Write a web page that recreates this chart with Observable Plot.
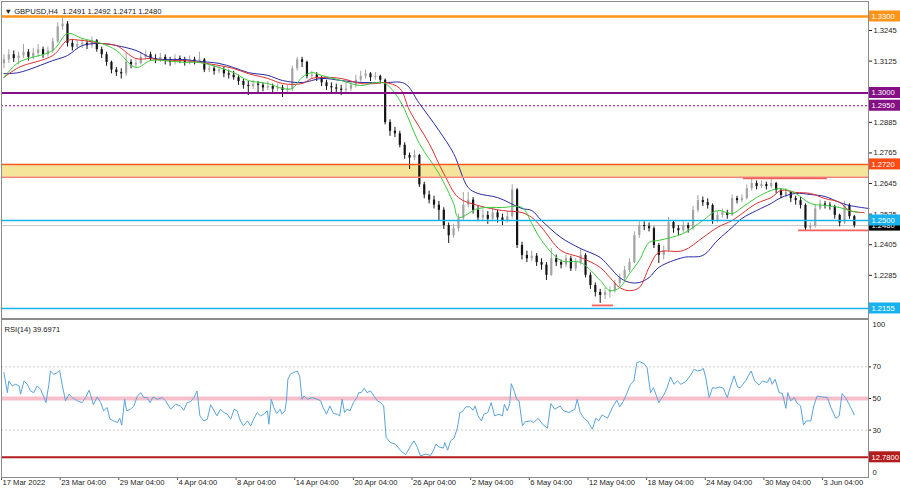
<!DOCTYPE html>
<html><head><meta charset="utf-8">
<script src="https://cdn.jsdelivr.net/npm/d3@7"></script>
<script src="https://cdn.jsdelivr.net/npm/@observablehq/plot@0.6"></script>
<style>
body{margin:0;background:#fff;}
#chart{width:900px;height:489px;overflow:hidden;background:#fff;}
#chart svg{display:block;}
</style></head><body><div id="chart"></div>
<script>
// ---------- DATA ----------
const firstOpen = 1.3115;
const closes = [
1.3130,1.3150,1.3135,1.3145,1.3160,1.3140,1.3155,1.3170,1.3150,1.3165,
1.3200,1.3260,1.3270,1.3195,1.3180,1.3190,1.3195,1.3185,1.3205,1.3170,
1.3150,1.3120,1.3090,1.3080,1.3075,1.3120,1.3110,1.3115,1.3140,1.3150,
1.3135,1.3130,1.3140,1.3125,1.3120,1.3135,1.3130,1.3120,1.3130,1.3125,
1.3130,1.3090,1.3095,1.3085,1.3090,1.3075,1.3070,1.3060,1.3045,1.3030,
1.3025,1.3035,1.3030,1.3020,1.3025,1.3015,1.3020,1.3010,1.3015,1.3095,
1.3130,1.3120,1.3065,1.3070,1.3060,1.3040,1.3025,1.3020,1.3015,1.3010,
1.3015,1.3030,1.3050,1.3065,1.3075,1.3060,1.3065,1.3050,1.2884,1.2850,
1.2840,1.2795,1.2755,1.2745,1.2755,1.2640,1.2600,1.2580,1.2560,1.2540,
1.2480,1.2440,1.2468,1.2508,1.2560,1.2580,1.2540,1.2510,1.2520,1.2505,
1.2530,1.2510,1.2500,1.2515,1.2620,1.2402,1.2363,1.2350,1.2360,1.2335,
1.2325,1.2285,1.2350,1.2335,1.2325,1.2350,1.2310,1.2335,1.2363,1.2285,
1.2245,1.2218,1.2206,1.2218,1.2225,1.2253,1.2273,1.2304,1.2335,1.2441,
1.2480,1.2476,1.2468,1.2402,1.2363,1.2382,1.2492,1.2468,1.2460,1.2480,
1.2468,1.2539,1.2578,1.2570,1.2559,1.2500,1.2520,1.2531,1.2520,1.2586,
1.2578,1.2586,1.2625,1.2645,1.2633,1.2641,1.2633,1.2645,1.2618,1.2598,
1.2610,1.2586,1.2578,1.2559,1.2470,1.2478,1.2545,1.2565,1.2560,1.2555,
1.2520,1.2490,1.2560,1.2515,1.2480];
const highs = [
1.3150,1.3170,1.3165,1.3160,1.3190,1.3170,1.3175,1.3190,1.3180,1.3180,
1.3215,1.3275,1.3295,1.3280,1.3210,1.3205,1.3210,1.3205,1.3220,1.3210,
1.3180,1.3160,1.3125,1.3100,1.3095,1.3155,1.3130,1.3130,1.3160,1.3165,
1.3160,1.3150,1.3155,1.3150,1.3140,1.3150,1.3145,1.3140,1.3145,1.3140,
1.3160,1.3135,1.3110,1.3105,1.3105,1.3100,1.3090,1.3085,1.3070,1.3055,
1.3045,1.3050,1.3045,1.3040,1.3045,1.3035,1.3035,1.3030,1.3030,1.3105,
1.3140,1.3140,1.3125,1.3085,1.3080,1.3065,1.3050,1.3040,1.3035,1.3030,
1.3040,1.3045,1.3070,1.3085,1.3090,1.3080,1.3080,1.3070,1.3055,1.2895,
1.2865,1.2850,1.2805,1.2765,1.2775,1.2760,1.2650,1.2615,1.2595,1.2575,
1.2550,1.2490,1.2485,1.2525,1.2610,1.2610,1.2590,1.2555,1.2545,1.2535,
1.2550,1.2540,1.2525,1.2535,1.2640,1.2625,1.2415,1.2380,1.2380,1.2370,
1.2350,1.2335,1.2390,1.2365,1.2345,1.2365,1.2360,1.2350,1.2390,1.2370,
1.2295,1.2255,1.2230,1.2235,1.2240,1.2265,1.2290,1.2320,1.2350,1.2455,
1.2495,1.2495,1.2490,1.2475,1.2410,1.2400,1.2512,1.2500,1.2480,1.2495,
1.2490,1.2555,1.2598,1.2592,1.2585,1.2565,1.2535,1.2545,1.2540,1.2600,
1.2595,1.2600,1.2640,1.2665,1.2655,1.2655,1.2650,1.2660,1.2650,1.2625,
1.2625,1.2615,1.2595,1.2590,1.2565,1.2490,1.2560,1.2580,1.2575,1.2570,
1.2560,1.2525,1.2575,1.2565,1.2520];
const lows = [
1.3095,1.3115,1.3120,1.3110,1.3135,1.3125,1.3130,1.3140,1.3135,1.3140,
1.3155,1.3195,1.3245,1.3180,1.3165,1.3170,1.3175,1.3170,1.3175,1.3160,
1.3135,1.3105,1.3075,1.3065,1.3055,1.3065,1.3095,1.3100,1.3110,1.3130,
1.3125,1.3115,1.3120,1.3110,1.3105,1.3110,1.3115,1.3105,1.3110,1.3110,
1.3115,1.3080,1.3080,1.3070,1.3075,1.3060,1.3055,1.3050,1.3030,1.3015,
1.2990,1.3015,1.2995,1.3005,1.3010,1.3000,1.3005,1.2982,1.2995,1.3005,
1.3085,1.3100,1.3055,1.3055,1.3045,1.3025,1.3010,1.3000,1.2995,1.2990,
1.2995,1.3005,1.3020,1.3040,1.3055,1.3045,1.3050,1.3035,1.2875,1.2830,
1.2825,1.2785,1.2740,1.2700,1.2735,1.2630,1.2585,1.2565,1.2545,1.2500,
1.2465,1.2410,1.2430,1.2455,1.2500,1.2550,1.2525,1.2495,1.2500,1.2485,
1.2495,1.2490,1.2480,1.2490,1.2505,1.2390,1.2345,1.2335,1.2340,1.2320,
1.2305,1.2265,1.2280,1.2320,1.2310,1.2315,1.2300,1.2300,1.2325,1.2275,
1.2230,1.2200,1.2175,1.2190,1.2195,1.2215,1.2240,1.2260,1.2295,1.2330,
1.2430,1.2460,1.2455,1.2390,1.2331,1.2345,1.2375,1.2450,1.2440,1.2450,
1.2450,1.2460,1.2530,1.2555,1.2545,1.2485,1.2490,1.2510,1.2505,1.2515,
1.2565,1.2570,1.2580,1.2615,1.2620,1.2625,1.2620,1.2625,1.2605,1.2585,
1.2590,1.2570,1.2560,1.2545,1.2457,1.2460,1.2470,1.2540,1.2545,1.2540,
1.2505,1.2475,1.2485,1.2505,1.2471];

// Alligator-style moving averages: [bar index, price]
const lipsGreen = [[0,1.3061],[3,1.3120],[10,1.3167],[13,1.3233],[16,1.3214],[20,1.3194],[23,1.3167],[27,1.3100],[30,1.3127],[33,1.3127],[37,1.3120],[40,1.3120],[44,1.3100],[47,1.3080],[50,1.3049],[54,1.3037],[57,1.3018],[59,1.3018],[61,1.3061],[63,1.3080],[65,1.3069],[69,1.3049],[73,1.3029],[76,1.3041],[78,1.3037],[81,1.2971],[85,1.2802],[89,1.2684],[92,1.2567],[93,1.2512],[97,1.2547],[102,1.2551],[106,1.2551],[108,1.2488],[110,1.2422],[114,1.2343],[118,1.2335],[122,1.2265],[124,1.2225],[126,1.2237],[128,1.2292],[130,1.2343],[132,1.2414],[134,1.2422],[139,1.2449],[143,1.2500],[146,1.2539],[149,1.2527],[151,1.2551],[154,1.2590],[157,1.2618],[159,1.2625],[162,1.2606],[165,1.2567],[168,1.2559],[171,1.2551],[173,1.2539],[175,1.2531]];
const teethRed = [[0,1.3061],[3,1.3100],[10,1.3147],[13,1.3206],[16,1.3206],[20,1.3194],[23,1.3186],[27,1.3135],[30,1.3135],[33,1.3127],[37,1.3127],[40,1.3120],[44,1.3108],[47,1.3096],[50,1.3076],[54,1.3057],[57,1.3037],[61,1.3037],[63,1.3057],[65,1.3061],[69,1.3057],[73,1.3037],[76,1.3037],[78,1.3041],[81,1.3018],[83,1.2931],[87,1.2802],[90,1.2684],[93,1.2590],[97,1.2559],[102,1.2539],[106,1.2531],[108,1.2512],[110,1.2473],[114,1.2382],[118,1.2355],[122,1.2316],[124,1.2276],[126,1.2237],[128,1.2225],[130,1.2237],[132,1.2316],[134,1.2375],[139,1.2382],[143,1.2433],[146,1.2473],[149,1.2500],[151,1.2527],[154,1.2567],[157,1.2590],[159,1.2618],[162,1.2610],[165,1.2606],[168,1.2586],[171,1.2571],[173,1.2539],[176,1.2531]];
const jawBlue = [[0,1.3076],[3,1.3080],[10,1.3127],[13,1.3147],[16,1.3186],[20,1.3194],[23,1.3186],[27,1.3167],[30,1.3139],[33,1.3131],[37,1.3131],[40,1.3124],[44,1.3116],[47,1.3100],[50,1.3080],[54,1.3069],[57,1.3049],[61,1.3041],[65,1.3057],[69,1.3049],[73,1.3041],[78,1.3041],[82,1.3037],[85,1.2959],[89,1.2853],[92,1.2763],[95,1.2629],[97,1.2606],[101,1.2590],[106,1.2547],[108,1.2539],[110,1.2500],[114,1.2433],[118,1.2390],[122,1.2355],[124,1.2316],[126,1.2276],[128,1.2257],[130,1.2257],[132,1.2276],[134,1.2316],[139,1.2355],[143,1.2363],[146,1.2422],[149,1.2473],[151,1.2508],[154,1.2539],[157,1.2567],[159,1.2590],[162,1.2606],[165,1.2602],[168,1.2594],[171,1.2571],[173,1.2559],[177,1.2547]];

// RSI(14): [bar position, value]
const rsiValues = [[0,66.4],[0.7,53.7],[1.0,61.1],[1.7,58.0],[2.4,59.0],[3.1,58.0],[3.4,52.7],[4.1,61.1],[4.8,59.0],[5.4,54.8],[6.1,53.7],[6.8,58.0],[7.5,55.8],[8.2,50.6],[8.6,47.4],[9.2,59.0],[9.5,67.4],[10.2,65.3],[10.9,66.4],[11.4,67.8],[11.9,59.0],[12.6,48.5],[13.3,52.7],[14.0,50.6],[15.0,48.5],[16.0,47.4],[16.7,50.6],[17.4,55.2],[17.7,52.7],[18.3,46.0],[19.1,51.0],[19.8,47.4],[20.4,42.2],[21.1,44.3],[21.7,36.9],[22.5,35.8],[23.2,34.8],[23.7,37.5],[24.1,33.1],[24.7,49.5],[25.1,42.2],[25.9,43.2],[26.6,45.3],[27.3,51.6],[28.0,53.7],[28.6,50.6],[29.3,50.6],[29.9,47.4],[30.5,51.0],[31.4,49.5],[32.4,50.6],[33.1,48.5],[34.1,43.2],[35.1,46.4],[36.1,45.3],[36.8,42.6],[37.5,47.4],[38.2,48.1],[38.9,50.6],[39.5,54.8],[40.1,39.0],[40.9,35.8],[41.6,36.9],[42.3,46.0],[43.0,42.2],[43.6,39.0],[44.3,43.2],[45.0,41.1],[45.7,40.1],[46.4,36.9],[47.1,43.2],[47.7,42.2],[48.4,35.8],[49.0,32.7],[49.8,35.8],[50.5,32.7],[51.1,36.9],[51.8,41.1],[52.5,39.0],[53.2,40.1],[53.9,42.2],[54.2,33.7],[54.7,49.5],[55.2,44.3],[55.8,40.5],[56.5,43.2],[56.9,40.1],[57.5,42.2],[57.8,48.5],[58.1,62.2],[58.6,65.3],[59.3,66.4],[60.0,67.4],[60.5,64.3],[61.0,49.5],[61.4,51.6],[62.1,49.5],[63.1,50.6],[64.1,49.5],[64.8,48.5],[65.3,44.3],[66.0,40.1],[66.7,45.3],[67.4,40.5],[68.2,40.1],[68.7,39.0],[69.2,49.5],[69.7,41.1],[70.2,43.2],[70.8,42.2],[71.5,47.4],[72.2,50.6],[72.6,53.7],[73.1,53.7],[73.7,56.5],[74.3,53.7],[75.0,54.8],[75.7,51.6],[76.4,48.5],[77.1,47.4],[77.7,45.3],[78.2,25.3],[79.1,22.1],[80.1,21.1],[81.2,16.9],[82.2,14.4],[83.2,20.0],[83.9,23.2],[84.6,19.0],[85.2,13.7],[86.3,14.8],[87.3,14.0],[88.0,18.0],[88.4,21.1],[89.0,19.4],[89.9,18.6],[90.2,22.1],[90.8,17.3],[91.4,23.2],[92.1,24.9],[92.8,31.6],[93.3,41.1],[93.8,41.7],[94.5,44.7],[95.3,44.7],[96.0,42.6],[96.4,45.3],[97.0,39.0],[97.7,35.8],[98.2,40.1],[99.0,41.1],[99.7,47.4],[100.4,39.0],[101.3,40.1],[102.0,39.0],[102.4,46.4],[103.0,42.2],[103.5,46.8],[103.8,59.4],[104.4,54.8],[104.9,49.5],[105.4,48.5],[106.1,32.7],[106.7,35.4],[107.8,35.8],[108.4,34.8],[109.3,37.5],[110.2,33.7],[111.2,31.2],[111.9,46.8],[112.7,43.2],[113.8,45.3],[114.5,42.2],[115.6,41.1],[116.8,43.2],[117.3,49.5],[117.9,41.1],[118.7,37.5],[119.4,35.8],[120.4,30.6],[121.1,37.5],[121.7,35.8],[122.4,39.6],[123.5,37.5],[124.5,44.3],[125.4,48.9],[126.0,44.7],[126.7,48.1],[127.4,52.7],[128.2,59.0],[128.9,61.1],[129.5,72.7],[130.1,73.3],[131.0,72.1],[131.6,69.5],[132.3,53.7],[132.9,56.9],[134.0,47.4],[135.1,52.7],[135.7,56.9],[136.4,63.6],[137.1,59.0],[137.8,61.1],[138.5,59.0],[139.5,60.7],[140.4,64.3],[141.2,68.5],[141.9,67.4],[142.6,67.9],[143.1,69.1],[143.6,63.2],[144.3,50.6],[145.0,56.9],[145.6,56.5],[146.5,57.3],[147.2,56.5],[148.0,50.6],[148.6,56.9],[149.4,64.3],[150.1,57.3],[150.7,56.9],[151.8,61.5],[152.9,67.4],[153.6,61.1],[154.5,58.6],[155.2,61.1],[156.2,60.1],[156.7,63.2],[157.2,59.0],[157.8,62.2],[158.6,53.7],[159.3,53.1],[160.0,43.8],[160.4,53.7],[161.0,48.5],[161.7,50.6],[162.2,47.4],[163.0,45.3],[163.6,33.3],[164.2,35.8],[165.1,35.8],[165.7,45.3],[166.4,51.6],[167.4,51.0],[168.5,50.6],[169.2,44.3],[170.2,37.5],[170.9,39.0],[171.5,53.1],[172.2,50.6],[173.1,45.3],[174.0,39.7]];

const timeTicks = [0,12,24,36,48,60,72,84,96,108,120,132,144,156,168];
const timeLabels = ["17 Mar 2022","23 Mar 04:00","29 Mar 04:00","4 Apr 04:00","8 Apr 04:00","14 Apr 04:00","20 Apr 04:00","26 Apr 04:00","2 May 04:00","6 May 04:00","12 May 04:00","18 May 04:00","24 May 04:00","30 May 04:00","3 Jun 04:00"];
const priceTicks = [1.3245,1.3125,1.2885,1.2765,1.2645,1.2525,1.2405,1.2285,1.2165];
const rsiTicks = [70,50,30];

const levelPrices = [1.3300, 1.3000, 1.2950, 1.2720, 1.2500, 1.2155];
const zoneLow = 1.2670, zoneHigh = 1.2720;
const currentPrice = 1.2480;
const shortLines = [{p:1.2665, from:151.3, to:168.5},{p:1.2461, from:162.6, to:177},{p:1.2167, from:120.4, to:124.7}];
const rsiLevel = 12.78;
const titleText = "\u25BC GBPUSD,H4  1.2491 1.2492 1.2471 1.2480";
const rsiText = "RSI(14) 39.6971";

// ---------- STYLES ----------
const levelStyles = [
  {stroke:"#ff9419", w:2.5},
  {stroke:"#850f85", w:2},
  {stroke:"#850f85", w:1, dash:"2,2"},
  {stroke:"#ff5c28", w:1.5},
  {stroke:"#18b2ee", w:1.5},
  {stroke:"#18b2ee", w:1.5}
];
const tagColors = ["#ff9419","#850f85","#850f85","#ff4a14","#18b2ee","#18b2ee"];
const font = "'Liberation Sans', Arial, sans-serif";
const FS = "7.6px";
const xDomain = [-0.5, 176.9];

const candles = closes.map((c, i) => ({i, o: i ? closes[i-1] : firstOpen, c, h: highs[i], l: lows[i]}));
const bull = candles.filter(d => d.c >= d.o);
const bear = candles.filter(d => d.c < d.o);

const main = Plot.plot({
  width: 900, height: 319,
  marginLeft: 1, marginRight: 32, marginTop: 1, marginBottom: 1,
  x: {domain: xDomain, axis: null},
  y: {domain: [1.21157, 1.33588], axis: "right", ticks: priceTicks, tickFormat: d3.format(".4f"), tickSize: 3, tickPadding: 2, label: null},
  style: {fontFamily: font, fontSize: FS, color: "#222", background: "#fff", overflow: "visible"},
  marks: [
    Plot.rect([0], {y1: () => zoneLow, y2: () => zoneHigh, fill: "#f4e59a"}),
    Plot.ruleY([currentPrice], {stroke: "#c6c6c6", strokeWidth: 1}),
    Plot.ruleX(bull, {x: "i", y1: "l", y2: "h", stroke: "#a3a3a3", strokeWidth: 1}),
    Plot.ruleX(bull, {x: "i", y1: "o", y2: "c", stroke: "#a3a3a3", strokeWidth: 2.2}),
    Plot.ruleX(bear, {x: "i", y1: "l", y2: "h", stroke: "#151515", strokeWidth: 1}),
    Plot.ruleX(bear, {x: "i", y1: "o", y2: "c", stroke: "#151515", strokeWidth: 2.2}),
    Plot.line(jawBlue, {x: d => d[0], y: d => d[1], stroke: "#2a2aa8", strokeWidth: 1, curve: "catmull-rom"}),
    Plot.line(teethRed, {x: d => d[0], y: d => d[1], stroke: "#dd3030", strokeWidth: 1, curve: "catmull-rom"}),
    Plot.line(lipsGreen, {x: d => d[0], y: d => d[1], stroke: "#3acb3a", strokeWidth: 1, curve: "catmull-rom"}),
    Plot.ruleY([zoneLow], {stroke: "#f48672", strokeWidth: 1.5}),
    ...levelPrices.map((p, k) => Plot.ruleY([p], {stroke: levelStyles[k].stroke, strokeWidth: levelStyles[k].w, strokeDasharray: levelStyles[k].dash})),
    Plot.ruleY(shortLines, {y: "p", x1: "from", x2: "to", stroke: "#f26262", strokeWidth: 1.8}),
    Plot.text([titleText], {frameAnchor: "top-left", textAnchor: "start", dx: 3, dy: 7, fill: "#222"}),
    Plot.frame({stroke: "#8c8c8c"})
  ]
});

const rsiPlot = Plot.plot({
  width: 900, height: 170,
  marginLeft: 1, marginRight: 32, marginTop: 0, marginBottom: 12,
  x: {domain: xDomain, axis: null},
  y: {domain: [0, 100], axis: "right", ticks: rsiTicks, tickFormat: d => String(d), tickSize: 2, tickPadding: 2, label: null},
  style: {fontFamily: font, fontSize: FS, color: "#222", background: "#fff", overflow: "visible"},
  marks: [
    Plot.ruleY([70, 30], {stroke: "#cfcfcf", strokeDasharray: "2,2"}),
    Plot.ruleY([50], {stroke: "#f8bfcb", strokeWidth: 4}),
    Plot.ruleY([rsiLevel], {stroke: "#b21c1c", strokeWidth: 2}),
    Plot.line(rsiValues, {x: d => d[0], y: d => d[1], stroke: "#5aa4dc", strokeWidth: 1}),
    Plot.text([100], {y: d => d, text: d => String(d), frameAnchor: "right", textAnchor: "start", dx: 4, dy: 5, fill: "#222"}),
    Plot.text([0], {y: d => d, text: d => String(d), frameAnchor: "right", textAnchor: "start", dx: 4, dy: -5, fill: "#222"}),
    Plot.text([rsiText], {frameAnchor: "top-left", textAnchor: "start", dx: 3, dy: 7, fill: "#222"}),
    Plot.ruleX(timeTicks, {x: d => d - 0.5, y1: 0, y2: 0, insetBottom: -3, stroke: "#555"}),
    Plot.text(timeTicks, {x: d => d - 0.5, text: (d, k) => timeLabels[k], frameAnchor: "bottom", textAnchor: "start", dx: 1, dy: 7, fill: "#222"}),
    Plot.frame({stroke: "#8c8c8c"})
  ]
});

function addTags(svgNode, tags) {
  const sc = svgNode.scale("y");
  const y = d3.scaleLinear(sc.domain, sc.range);
  const g = d3.select(svgNode).append("g")
    .attr("font-family", font).attr("font-size", FS).attr("text-anchor", "start");
  for (const t of tags) {
    const cy = y(t.value);
    g.append("rect").attr("x", 869).attr("y", cy - 5.5).attr("width", 31).attr("height", 11).attr("fill", t.bg);
    g.append("text").attr("x", 871.5).attr("y", cy).attr("dy", "0.36em")
      .attr("text-anchor", "start").attr("fill", "#fff").text(t.label);
  }
}
addTags(main, [{value: currentPrice, label: currentPrice.toFixed(4), bg: "#000"}]
  .concat(levelPrices.map((p, k) => ({value: p, label: p.toFixed(4), bg: tagColors[k]}))));
addTags(rsiPlot, [{value: rsiLevel, label: rsiLevel.toFixed(4), bg: "#b21c1c"}]);

document.getElementById("chart").append(main, rsiPlot);
</script></body></html>
